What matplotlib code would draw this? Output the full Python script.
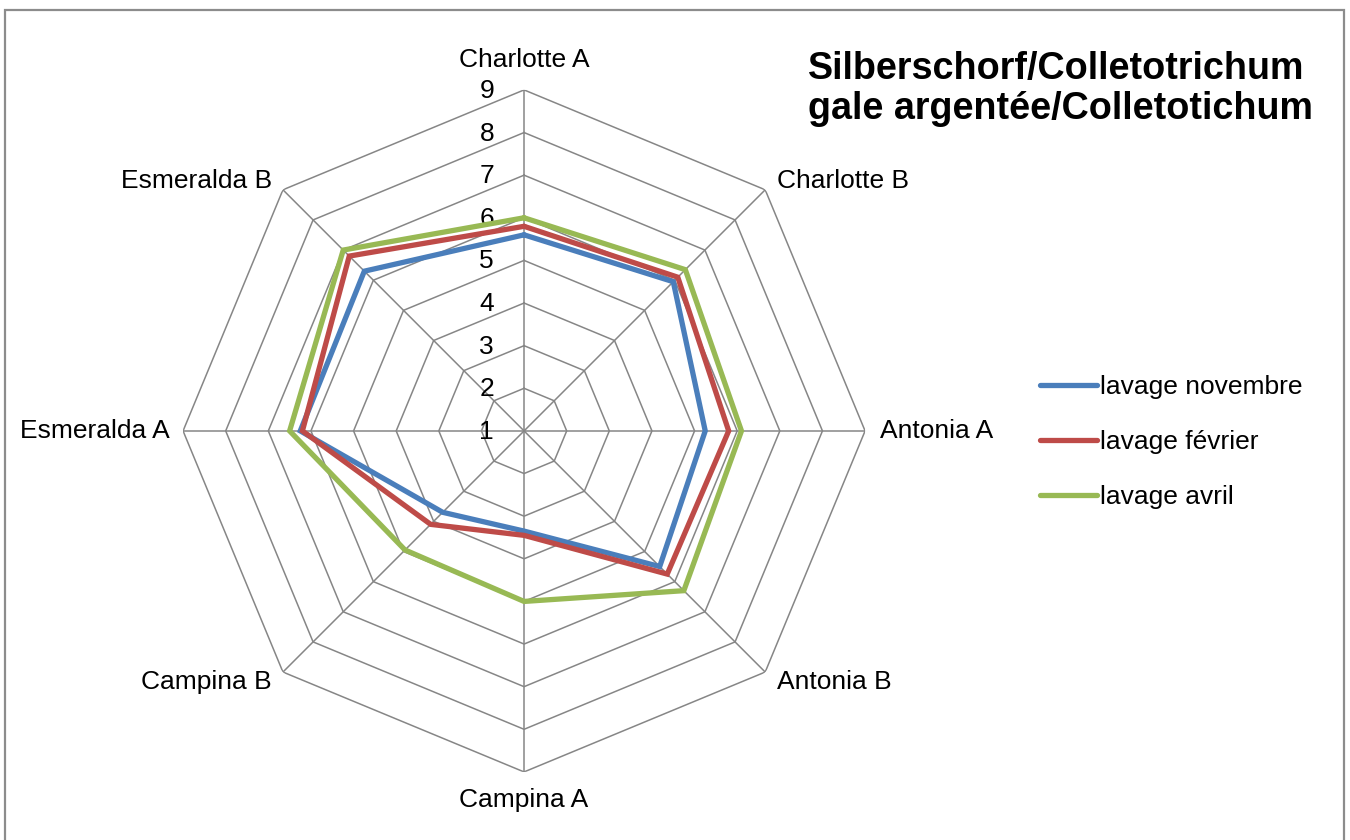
import numpy as np
import matplotlib.pyplot as plt
from matplotlib.patches import Rectangle

plt.rcParams['font.family'] = ['Liberation Sans', 'DejaVu Sans']

# varieties, clockwise from the top
categories = ['Charlotte A', 'Charlotte B', 'Antonia A', 'Antonia B',
              'Campina A', 'Campina B', 'Esmeralda A', 'Esmeralda B']
novembre = [5.6, 5.95, 5.25, 5.5, 3.35, 3.7, 6.25, 6.3]
fevrier = [5.8, 6.1, 5.8, 5.75, 3.45, 4.1, 6.2, 6.8]
avril = [6.0, 6.35, 6.1, 6.3, 5.0, 4.95, 6.5, 7.0]
series_names = ['lavage novembre', 'lavage février', 'lavage avril']
series_colors = ['#4A7EBB', '#BE4B48', '#98B954']
rings = [1, 2, 3, 4, 5, 6, 7, 8, 9]

n = len(categories)
theta = np.arange(n) * 2 * np.pi / n

fig = plt.figure(figsize=(13.5, 8.4), dpi=100)
ax = fig.add_axes([0.1356, 0.081, 0.5052, 0.812], projection='polar')
ax.set_theta_zero_location('N')
ax.set_theta_direction(-1)
ax.set_ylim(1, 9)
ax.grid(False)
ax.set_xticks([])
ax.set_yticks([])
ax.spines['polar'].set_visible(False)

grid_col = '#868686'
closed = np.append(theta, theta[0])
for r in rings[1:]:
    ax.plot(closed, [r] * (n + 1), color=grid_col, lw=1.1, zorder=1)
for t in theta:
    ax.plot([t, t], [rings[0], rings[-1]], color=grid_col, lw=1.1, zorder=1)

# value labels on the vertical spoke
for r in rings:
    ax.annotate(str(r), (0, r), xytext=(-30, -1), textcoords='offset pixels',
                ha='right', va='center', fontsize=19, zorder=2)

# category labels around the outer ring
offsets = [(0, 30, 'center'), (12, 9, 'left'), (15, 0, 'left'), (12, -10, 'left'),
           (0, -28, 'center'), (-11, -10, 'right'), (-13, 0, 'right'), (-11, 9, 'right')]
for t, name, (dx, dy, ha) in zip(theta, categories, offsets):
    ax.annotate(name, (t, rings[-1]), xytext=(dx, dy), textcoords='offset pixels',
                ha=ha, va='center', fontsize=19, annotation_clip=False)

handles = []
for vals, name, col in zip([novembre, fevrier, avril], series_names, series_colors):
    v = np.append(vals, vals[0])
    h, = ax.plot(closed, v, color=col, lw=3.8, label=name, zorder=3,
                 solid_joinstyle='miter', solid_capstyle='round')
    handles.append(h)

fig.legend(handles, series_names, loc='center left', bbox_to_anchor=(1040 / 1350, 1 - 442 / 840),
           frameon=False, fontsize=19, handlelength=2.15, handletextpad=0.12,
           labelspacing=1.18, borderpad=0, borderaxespad=0)

fig.text(808 / 1350, 1 - 51 / 840, 'Silberschorf/Colletotrichum\ngale argentée/Colletotichum',
         ha='left', va='top', fontsize=27.2, fontweight='bold', linespacing=1.13)

fig.add_artist(Rectangle((5 / 1350, -0.01), 1339 / 1350, 1.01 - 10 / 840,
                         transform=fig.transFigure, fill=False,
                         edgecolor='#8c8c8c', lw=1.6))

fig.savefig('out.png', dpi=100)
